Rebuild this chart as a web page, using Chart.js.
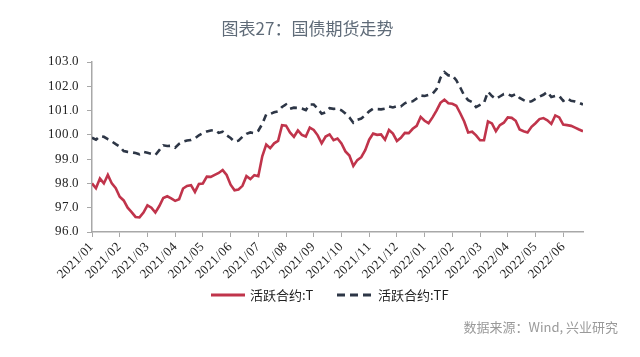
<!DOCTYPE html>
<html><head><meta charset="utf-8">
<script src="https://cdn.jsdelivr.net/npm/chart.js@4.4.1/dist/chart.umd.min.js"></script>
<style>
html,body{margin:0;padding:0;background:#fff;}
#wrap{position:relative;width:640px;height:357px;overflow:hidden;font-family:"Noto Sans CJK SC","Noto Sans",sans-serif;}
#c{position:absolute;left:0;top:0;}
#title{position:absolute;left:0;width:615px;top:18px;line-height:20px;text-align:center;font-size:17px;color:#5f6b78;}
.lg{position:absolute;font-size:13px;line-height:16px;color:#222;top:287px;white-space:nowrap;}
.sw{position:absolute;top:289px;}
#src{position:absolute;right:22px;top:319px;font-size:13px;line-height:16px;color:#9a9a9a;white-space:nowrap;}
</style></head>
<body>
<div id="wrap">
<canvas id="c" width="640" height="357"></canvas>
<div id="title">图表27：国债期货走势</div>
<svg class="sw" style="left:211px" width="35" height="12"><line x1="0" y1="6" x2="34" y2="6" stroke="#c0344b" stroke-width="3"/></svg>
<div class="lg" style="left:250px">活跃合约:T</div>
<svg class="sw" style="left:337px" width="35" height="12"><line x1="0" y1="6" x2="34" y2="6" stroke="#2d3646" stroke-width="3" stroke-dasharray="8,5"/></svg>
<div class="lg" style="left:378px">活跃合约:TF</div>
<div id="src">数据来源：Wind, 兴业研究</div>
</div>
<script>
const monthLabels = ['2021/01','2021/02','2021/03','2021/04','2021/05','2021/06','2021/07','2021/08','2021/09','2021/10','2021/11','2021/12','2022/01','2022/02','2022/03','2022/04','2022/05','2022/06'];
const pointsPerMonth = 7;
const seriesNames = ['活跃合约:T','活跃合约:TF'];
const seriesT = [98.0, 97.8, 98.2, 98.0, 98.35, 98.0, 97.8, 97.45, 97.3, 97.0,
 96.82, 96.62, 96.6, 96.8, 97.1, 97.0, 96.8, 97.07, 97.4, 97.47,
 97.38, 97.28, 97.35, 97.79, 97.9, 97.93, 97.65, 97.98, 98.0, 98.28,
 98.27, 98.35, 98.43, 98.55, 98.35, 97.95, 97.72, 97.75, 97.9, 98.3,
 98.18, 98.34, 98.3, 99.12, 99.6, 99.45, 99.65, 99.75, 100.4, 100.38,
 100.1, 99.92, 100.18, 100.0, 99.93, 100.3, 100.2, 99.98, 99.65, 99.93,
 100.02, 99.78, 99.85, 99.65, 99.32, 99.15, 98.72, 98.96, 99.08, 99.37,
 99.8, 100.05, 100.0, 100.02, 99.8, 100.2, 100.05, 99.75, 99.88, 100.08,
 100.07, 100.25, 100.37, 100.74, 100.58, 100.48, 100.72, 101.0, 101.32, 101.45,
 101.3, 101.28, 101.2, 100.89, 100.55, 100.1, 100.13, 99.98, 99.78, 99.78,
 100.55, 100.47, 100.15, 100.4, 100.5, 100.72, 100.7, 100.58, 100.22, 100.15,
 100.1, 100.33, 100.48, 100.65, 100.69, 100.6, 100.45, 100.8, 100.72, 100.42,
 100.4, 100.37, 100.3, 100.22, 100.15];
const seriesTF = [99.88, 99.8, 99.95, 99.92, 99.82, 99.73, 99.62, 99.52, 99.33, 99.3,
 99.28, 99.25, 99.2, 99.3, 99.26, 99.22, 99.17, 99.37, 99.57, 99.54,
 99.55, 99.47, 99.63, 99.72, 99.77, 99.79, 99.85, 99.98, 100.07, 100.14,
 100.18, 100.2, 100.08, 100.13, 99.98, 99.87, 99.72, 99.76, 99.92, 100.04,
 100.1, 100.07, 100.17, 100.45, 100.84, 100.86, 100.93, 100.97, 101.15, 101.25,
 101.07, 101.12, 101.11, 101.08, 101.02, 101.25, 101.25, 101.08, 100.87, 100.93,
 101.1, 101.07, 101.08, 101.01, 100.88, 100.72, 100.5, 100.62, 100.67, 100.8,
 100.97, 101.08, 101.06, 101.05, 101.08, 101.17, 101.13, 101.18, 101.17, 101.3,
 101.37, 101.38, 101.5, 101.62, 101.6, 101.65, 101.69, 101.88, 102.35, 102.58,
 102.45, 102.45, 102.25, 101.95, 101.62, 101.43, 101.35, 101.14, 101.23, 101.32,
 101.78, 101.6, 101.48, 101.58, 101.68, 101.68, 101.6, 101.68, 101.52, 101.43,
 101.35, 101.38, 101.48, 101.57, 101.65, 101.77, 101.56, 101.6, 101.6, 101.4,
 101.5, 101.4, 101.37, 101.32, 101.25];
const yTicks = [96, 97, 98, 99, 100, 101, 102, 103];

const toXY = arr => arr.map((v, i) => ({x: i / pointsPerMonth, y: v}));
const axisColor = '#a8a8a8';
const serifFamily = "TickSerif, 'Liberation Serif', serif";
const tickFont = {family: serifFamily, size: 13};

function draw() {
  Chart.defaults.font.family = serifFamily;
  Chart.defaults.font.size = 13;
  new Chart(document.getElementById('c'), {
    type: 'line',
    data: {
      datasets: [
        {label: seriesNames[0], data: toXY(seriesT), borderColor: '#c0344b', borderWidth: 2.6, pointRadius: 0, tension: 0, fill: false},
        {label: seriesNames[1], data: toXY(seriesTF), borderColor: '#2d3646', borderWidth: 2.6, borderDash: [7, 5], pointRadius: 0, tension: 0, fill: false}
      ]
    },
    options: {
      responsive: false,
      animation: false,
      layout: {padding: {left: 0, right: 57, top: 62, bottom: 0}},
      plugins: {legend: {display: false}, title: {display: false}, tooltip: {enabled: false}},
      scales: {
        x: {
          type: 'linear',
          min: 0,
          max: (seriesT.length - 1) / pointsPerMonth,
          afterFit(s) { s.height = 125; },
          afterBuildTicks(s) { s.ticks = monthLabels.map((l, i) => ({value: i})); },
          ticks: {autoSkip: false, minRotation: 45, maxRotation: 45, padding: 2, color: '#222',
                  font: tickFont, callback: v => monthLabels[v]},
          grid: {display: true, drawOnChartArea: false, drawTicks: true, tickLength: 5, color: axisColor},
          border: {display: true, color: axisColor, width: 1.5}
        },
        y: {
          min: 96,
          max: 103,
          afterFit(s) { s.width = 92; },
          afterBuildTicks(s) { s.ticks = yTicks.map(v => ({value: v})); },
          ticks: {padding: 8, color: '#222', font: tickFont, callback: v => Number(v).toFixed(1)},
          grid: {display: true, drawOnChartArea: false, drawTicks: true, tickLength: 5, color: axisColor},
          border: {display: true, color: axisColor, width: 1.5}
        }
      }
    }
  });
}

try {
  const ff = new FontFace('TickSerif', "local('Liberation Serif'), local('LiberationSerif-Regular'), local('Times New Roman')");
  ff.load().then(f => { document.fonts.add(f); draw(); }).catch(() => draw());
} catch (e) { draw(); }
</script>
</body></html>
